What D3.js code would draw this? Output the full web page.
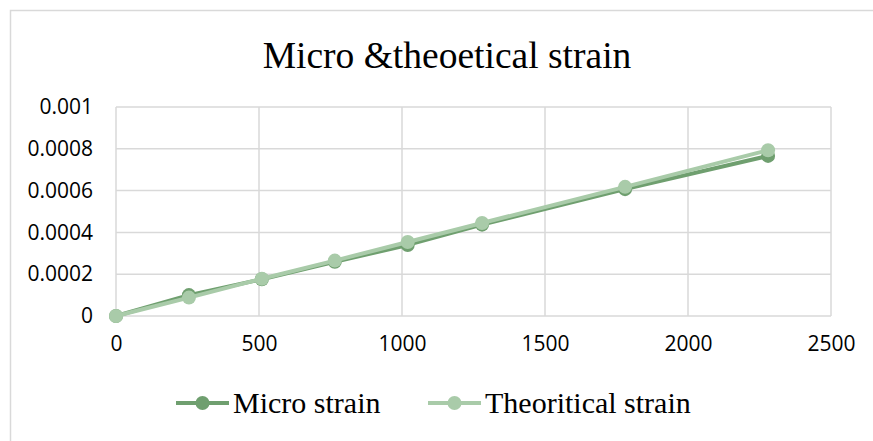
<!DOCTYPE html>
<html>
<head>
<meta charset="utf-8">
<script src="https://cdn.jsdelivr.net/npm/d3@7"></script>
<style>
  html, body { margin: 0; padding: 0; background: #fff; }
  svg { display: block; }
</style>
</head>
<body>
<svg id="chart" width="873" height="441"></svg>
<script>
// Applied load and measured / theoretical strain
const loads = [0, 255, 510, 765, 1020, 1280, 1780, 2280];
const microStrain = [0, 0.0001, 0.000176, 0.000259, 0.00034, 0.000437, 0.000607, 0.000766];
const theoreticalStrain = [0, 0.000088, 0.000178, 0.000265, 0.000354, 0.000445, 0.000618, 0.000793];
const xTicks = [0, 500, 1000, 1500, 2000, 2500];
const yTicks = [0, 0.0002, 0.0004, 0.0006, 0.0008, 0.001];
const yTickLabels = ["0", "0.0002", "0.0004", "0.0006", "0.0008", "0.001"];
const seriesNames = ["Micro strain", "Theoritical strain"];
const seriesColors = ["#6f9f6f", "#a9cba9"];
const chartTitle = "Micro &theoetical strain";

const svg = d3.select("#chart");

// Outer chart frame
svg.append("rect")
  .attr("x", 10.5).attr("y", 10.5)
  .attr("width", 900).attr("height", 500)
  .attr("fill", "#fff")
  .attr("stroke", "#d9d9d9").attr("stroke-width", 1.5);

const x = d3.scaleLinear().domain([0, 2500]).range([116, 831]);
const y = d3.scaleLinear().domain([0, 0.001]).range([316, 107]);

// Gridlines
const grid = svg.append("g");
grid.selectAll("line.h").data(yTicks).join("line")
  .attr("x1", x(0)).attr("x2", x(2500))
  .attr("y1", d => y(d)).attr("y2", d => y(d))
  .attr("stroke", "#d9d9d9").attr("stroke-width", 1.5);
grid.selectAll("line.v").data(xTicks).join("line")
  .attr("y1", y(0)).attr("y2", y(0.001))
  .attr("x1", d => x(d)).attr("x2", d => x(d))
  .attr("stroke", "#d9d9d9").attr("stroke-width", 1.5);

// Axes (labels only, Excel style)
const yAxis = d3.axisLeft(y).tickValues(yTicks)
  .tickFormat((d, i) => yTickLabels[i]).tickSize(0).tickPadding(23);
const gy = svg.append("g").attr("transform", `translate(${x(0)},0)`).call(yAxis);
gy.select(".domain").remove();
gy.selectAll("text")
  .attr("font-family", "'Open Sans', sans-serif")
  .attr("font-size", 21).attr("fill", "#000");

const xAxis = d3.axisBottom(x).tickValues(xTicks).tickSize(0).tickPadding(20)
  .tickFormat(d3.format("d"));
const gx = svg.append("g").attr("transform", `translate(0,${y(0)})`).call(xAxis);
gx.select(".domain").remove();
gx.selectAll("text")
  .attr("font-family", "'Open Sans', sans-serif")
  .attr("font-size", 21).attr("fill", "#000");

// Series
const series = [microStrain, theoreticalStrain];
const line = d3.line().x((d, i) => x(loads[i])).y(d => y(d));
series.forEach((vals, s) => {
  const g = svg.append("g");
  g.append("path").datum(vals)
    .attr("d", line).attr("fill", "none")
    .attr("stroke", seriesColors[s]).attr("stroke-width", 4)
    .attr("stroke-linejoin", "round");
  g.selectAll("circle").data(vals).join("circle")
    .attr("cx", (d, i) => x(loads[i])).attr("cy", d => y(d))
    .attr("r", 7).attr("fill", seriesColors[s]);
});

// Title
svg.append("text")
  .attr("x", 447).attr("y", 68)
  .attr("text-anchor", "middle")
  .attr("font-family", "'Liberation Serif', 'Times New Roman', serif")
  .attr("font-size", 37.5).attr("fill", "#000")
  .text(chartTitle);

// Legend
const legendX = [176, 428];
const legendY = 403;
seriesNames.forEach((name, s) => {
  const g = svg.append("g").attr("transform", `translate(${legendX[s]},${legendY})`);
  g.append("line").attr("x1", 0).attr("x2", 53).attr("y1", 0).attr("y2", 0)
    .attr("stroke", seriesColors[s]).attr("stroke-width", 4);
  g.append("circle").attr("cx", 26.5).attr("cy", 0).attr("r", 7)
    .attr("fill", seriesColors[s]);
  g.append("text").attr("x", 57).attr("y", 10)
    .attr("font-family", "'Liberation Serif', 'Times New Roman', serif")
    .attr("font-size", 30).attr("fill", "#000")
    .text(name);
});
</script>
</body>
</html>
